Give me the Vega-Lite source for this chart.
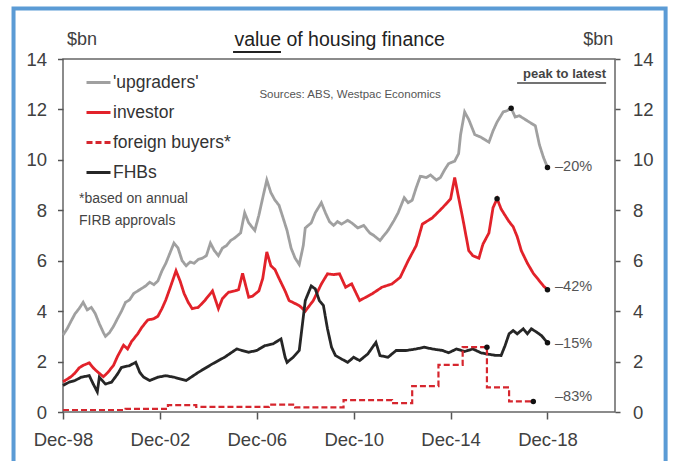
{
  "$schema": "https://vega.github.io/schema/vega-lite/v6.json",
  "width": 552,
  "height": 353,
  "autosize": {"type": "none"},
  "padding": {"left": 63, "top": 59, "right": 59, "bottom": 49},
  "background": "white",
  "config": {
    "font": "Liberation Sans",
    "view": {"stroke": "#666666", "strokeWidth": 1.5},
    "axis": {"grid": false, "domain": false, "labelFont": "Liberation Sans", "labelFontSize": 18.5, "labelColor": "#404040", "tickColor": "#555555", "tickWidth": 1.5, "title": null, "labelFlush": false}
  },
  "datasets": {
    "lines": [
      {"date": "1998-12-01", "series": "'upgraders'", "value": 3.05},
      {"date": "1999-02-01", "series": "'upgraders'", "value": 3.3},
      {"date": "1999-04-01", "series": "'upgraders'", "value": 3.6},
      {"date": "1999-06-01", "series": "'upgraders'", "value": 3.9},
      {"date": "1999-08-01", "series": "'upgraders'", "value": 4.1},
      {"date": "1999-10-01", "series": "'upgraders'", "value": 4.35},
      {"date": "1999-12-01", "series": "'upgraders'", "value": 4.05},
      {"date": "2000-02-01", "series": "'upgraders'", "value": 4.15},
      {"date": "2000-04-01", "series": "'upgraders'", "value": 3.9},
      {"date": "2000-06-01", "series": "'upgraders'", "value": 3.5},
      {"date": "2000-08-01", "series": "'upgraders'", "value": 3.15},
      {"date": "2000-09-01", "series": "'upgraders'", "value": 3.0},
      {"date": "2000-11-01", "series": "'upgraders'", "value": 3.15},
      {"date": "2001-01-01", "series": "'upgraders'", "value": 3.4},
      {"date": "2001-03-01", "series": "'upgraders'", "value": 3.7},
      {"date": "2001-05-01", "series": "'upgraders'", "value": 4.0},
      {"date": "2001-07-01", "series": "'upgraders'", "value": 4.35},
      {"date": "2001-09-01", "series": "'upgraders'", "value": 4.45},
      {"date": "2001-11-01", "series": "'upgraders'", "value": 4.7},
      {"date": "2002-01-01", "series": "'upgraders'", "value": 4.8},
      {"date": "2002-03-01", "series": "'upgraders'", "value": 4.9},
      {"date": "2002-05-01", "series": "'upgraders'", "value": 5.0},
      {"date": "2002-07-01", "series": "'upgraders'", "value": 5.15},
      {"date": "2002-09-01", "series": "'upgraders'", "value": 5.05},
      {"date": "2002-11-01", "series": "'upgraders'", "value": 5.2},
      {"date": "2003-01-01", "series": "'upgraders'", "value": 5.6},
      {"date": "2003-03-01", "series": "'upgraders'", "value": 5.9},
      {"date": "2003-05-01", "series": "'upgraders'", "value": 6.3},
      {"date": "2003-07-01", "series": "'upgraders'", "value": 6.7},
      {"date": "2003-09-01", "series": "'upgraders'", "value": 6.5},
      {"date": "2003-11-01", "series": "'upgraders'", "value": 6.0},
      {"date": "2004-01-01", "series": "'upgraders'", "value": 5.8},
      {"date": "2004-03-01", "series": "'upgraders'", "value": 5.95},
      {"date": "2004-05-01", "series": "'upgraders'", "value": 5.9},
      {"date": "2004-07-01", "series": "'upgraders'", "value": 6.05},
      {"date": "2004-09-01", "series": "'upgraders'", "value": 6.1},
      {"date": "2004-11-01", "series": "'upgraders'", "value": 6.2},
      {"date": "2005-01-01", "series": "'upgraders'", "value": 6.7},
      {"date": "2005-03-01", "series": "'upgraders'", "value": 6.4},
      {"date": "2005-05-01", "series": "'upgraders'", "value": 6.2},
      {"date": "2005-07-01", "series": "'upgraders'", "value": 6.5},
      {"date": "2005-09-01", "series": "'upgraders'", "value": 6.6},
      {"date": "2005-11-01", "series": "'upgraders'", "value": 6.8},
      {"date": "2006-01-01", "series": "'upgraders'", "value": 6.9},
      {"date": "2006-04-01", "series": "'upgraders'", "value": 7.1},
      {"date": "2006-06-01", "series": "'upgraders'", "value": 7.9},
      {"date": "2006-08-01", "series": "'upgraders'", "value": 7.5},
      {"date": "2006-11-01", "series": "'upgraders'", "value": 7.2},
      {"date": "2007-01-01", "series": "'upgraders'", "value": 7.8},
      {"date": "2007-03-01", "series": "'upgraders'", "value": 8.5},
      {"date": "2007-05-01", "series": "'upgraders'", "value": 9.2},
      {"date": "2007-07-01", "series": "'upgraders'", "value": 8.7},
      {"date": "2007-09-01", "series": "'upgraders'", "value": 8.4},
      {"date": "2007-11-01", "series": "'upgraders'", "value": 8.2},
      {"date": "2008-01-01", "series": "'upgraders'", "value": 7.7},
      {"date": "2008-03-01", "series": "'upgraders'", "value": 7.2},
      {"date": "2008-05-01", "series": "'upgraders'", "value": 6.5},
      {"date": "2008-07-01", "series": "'upgraders'", "value": 6.1},
      {"date": "2008-09-01", "series": "'upgraders'", "value": 5.85},
      {"date": "2008-11-01", "series": "'upgraders'", "value": 6.6},
      {"date": "2008-12-01", "series": "'upgraders'", "value": 7.3},
      {"date": "2009-03-01", "series": "'upgraders'", "value": 7.5},
      {"date": "2009-05-01", "series": "'upgraders'", "value": 7.9},
      {"date": "2009-08-01", "series": "'upgraders'", "value": 8.3},
      {"date": "2009-10-01", "series": "'upgraders'", "value": 7.9},
      {"date": "2009-12-01", "series": "'upgraders'", "value": 7.55},
      {"date": "2010-02-01", "series": "'upgraders'", "value": 7.4},
      {"date": "2010-04-01", "series": "'upgraders'", "value": 7.55},
      {"date": "2010-06-01", "series": "'upgraders'", "value": 7.45},
      {"date": "2010-09-01", "series": "'upgraders'", "value": 7.6},
      {"date": "2010-11-01", "series": "'upgraders'", "value": 7.5},
      {"date": "2011-02-01", "series": "'upgraders'", "value": 7.3},
      {"date": "2011-05-01", "series": "'upgraders'", "value": 7.4},
      {"date": "2011-08-01", "series": "'upgraders'", "value": 7.1},
      {"date": "2011-10-01", "series": "'upgraders'", "value": 7.0},
      {"date": "2012-01-01", "series": "'upgraders'", "value": 6.8},
      {"date": "2012-03-01", "series": "'upgraders'", "value": 7.0},
      {"date": "2012-05-01", "series": "'upgraders'", "value": 7.2},
      {"date": "2012-08-01", "series": "'upgraders'", "value": 7.6},
      {"date": "2012-10-01", "series": "'upgraders'", "value": 7.9},
      {"date": "2013-01-01", "series": "'upgraders'", "value": 8.5},
      {"date": "2013-03-01", "series": "'upgraders'", "value": 8.3},
      {"date": "2013-05-01", "series": "'upgraders'", "value": 8.4},
      {"date": "2013-07-01", "series": "'upgraders'", "value": 8.9},
      {"date": "2013-09-01", "series": "'upgraders'", "value": 9.35},
      {"date": "2013-12-01", "series": "'upgraders'", "value": 9.3},
      {"date": "2014-02-01", "series": "'upgraders'", "value": 9.4},
      {"date": "2014-05-01", "series": "'upgraders'", "value": 9.2},
      {"date": "2014-07-01", "series": "'upgraders'", "value": 9.3},
      {"date": "2014-09-01", "series": "'upgraders'", "value": 9.6},
      {"date": "2014-11-01", "series": "'upgraders'", "value": 9.85},
      {"date": "2015-02-01", "series": "'upgraders'", "value": 9.95},
      {"date": "2015-04-01", "series": "'upgraders'", "value": 10.25},
      {"date": "2015-05-01", "series": "'upgraders'", "value": 11.0},
      {"date": "2015-07-01", "series": "'upgraders'", "value": 11.9},
      {"date": "2015-09-01", "series": "'upgraders'", "value": 11.6},
      {"date": "2015-10-01", "series": "'upgraders'", "value": 11.4},
      {"date": "2015-12-01", "series": "'upgraders'", "value": 11.0},
      {"date": "2016-03-01", "series": "'upgraders'", "value": 10.9},
      {"date": "2016-05-01", "series": "'upgraders'", "value": 10.8},
      {"date": "2016-07-01", "series": "'upgraders'", "value": 10.7},
      {"date": "2016-09-01", "series": "'upgraders'", "value": 11.15},
      {"date": "2016-11-01", "series": "'upgraders'", "value": 11.5},
      {"date": "2017-02-01", "series": "'upgraders'", "value": 11.9},
      {"date": "2017-04-01", "series": "'upgraders'", "value": 11.95},
      {"date": "2017-06-01", "series": "'upgraders'", "value": 12.05},
      {"date": "2017-08-01", "series": "'upgraders'", "value": 11.7},
      {"date": "2017-10-01", "series": "'upgraders'", "value": 11.75},
      {"date": "2017-12-01", "series": "'upgraders'", "value": 11.65},
      {"date": "2018-03-01", "series": "'upgraders'", "value": 11.5},
      {"date": "2018-06-01", "series": "'upgraders'", "value": 11.35},
      {"date": "2018-08-01", "series": "'upgraders'", "value": 10.6},
      {"date": "2018-10-01", "series": "'upgraders'", "value": 10.1},
      {"date": "2018-12-01", "series": "'upgraders'", "value": 9.7},

      {"date": "1998-12-01", "series": "investor", "value": 1.2},
      {"date": "1999-02-01", "series": "investor", "value": 1.3},
      {"date": "1999-04-01", "series": "investor", "value": 1.4},
      {"date": "1999-06-01", "series": "investor", "value": 1.55},
      {"date": "1999-08-01", "series": "investor", "value": 1.75},
      {"date": "1999-10-01", "series": "investor", "value": 1.85},
      {"date": "2000-01-01", "series": "investor", "value": 1.95},
      {"date": "2000-03-01", "series": "investor", "value": 1.75},
      {"date": "2000-05-01", "series": "investor", "value": 1.6},
      {"date": "2000-08-01", "series": "investor", "value": 1.4},
      {"date": "2000-10-01", "series": "investor", "value": 1.55},
      {"date": "2001-01-01", "series": "investor", "value": 1.85},
      {"date": "2001-03-01", "series": "investor", "value": 2.2},
      {"date": "2001-06-01", "series": "investor", "value": 2.65},
      {"date": "2001-08-01", "series": "investor", "value": 2.5},
      {"date": "2001-10-01", "series": "investor", "value": 2.8},
      {"date": "2002-01-01", "series": "investor", "value": 3.1},
      {"date": "2002-03-01", "series": "investor", "value": 3.35},
      {"date": "2002-06-01", "series": "investor", "value": 3.65},
      {"date": "2002-09-01", "series": "investor", "value": 3.7},
      {"date": "2002-11-01", "series": "investor", "value": 3.8},
      {"date": "2003-01-01", "series": "investor", "value": 4.1},
      {"date": "2003-03-01", "series": "investor", "value": 4.45},
      {"date": "2003-05-01", "series": "investor", "value": 4.9},
      {"date": "2003-08-01", "series": "investor", "value": 5.6},
      {"date": "2003-10-01", "series": "investor", "value": 5.2},
      {"date": "2003-12-01", "series": "investor", "value": 4.7},
      {"date": "2004-02-01", "series": "investor", "value": 4.35},
      {"date": "2004-04-01", "series": "investor", "value": 4.1},
      {"date": "2004-07-01", "series": "investor", "value": 4.15},
      {"date": "2004-10-01", "series": "investor", "value": 4.4},
      {"date": "2005-02-01", "series": "investor", "value": 4.8},
      {"date": "2005-05-01", "series": "investor", "value": 4.1},
      {"date": "2005-07-01", "series": "investor", "value": 4.5},
      {"date": "2005-10-01", "series": "investor", "value": 4.75},
      {"date": "2006-01-01", "series": "investor", "value": 4.8},
      {"date": "2006-03-01", "series": "investor", "value": 4.85},
      {"date": "2006-05-01", "series": "investor", "value": 5.5},
      {"date": "2006-08-01", "series": "investor", "value": 4.55},
      {"date": "2006-10-01", "series": "investor", "value": 4.6},
      {"date": "2007-01-01", "series": "investor", "value": 4.8},
      {"date": "2007-03-01", "series": "investor", "value": 5.3},
      {"date": "2007-05-01", "series": "investor", "value": 6.35},
      {"date": "2007-07-01", "series": "investor", "value": 5.8},
      {"date": "2007-09-01", "series": "investor", "value": 5.65},
      {"date": "2007-11-01", "series": "investor", "value": 5.3},
      {"date": "2008-02-01", "series": "investor", "value": 4.8},
      {"date": "2008-04-01", "series": "investor", "value": 4.42},
      {"date": "2008-09-01", "series": "investor", "value": 4.22},
      {"date": "2008-12-01", "series": "investor", "value": 4.0},
      {"date": "2009-04-01", "series": "investor", "value": 4.42},
      {"date": "2009-08-01", "series": "investor", "value": 5.08},
      {"date": "2009-11-01", "series": "investor", "value": 5.48},
      {"date": "2010-02-01", "series": "investor", "value": 5.45},
      {"date": "2010-05-01", "series": "investor", "value": 5.48},
      {"date": "2010-08-01", "series": "investor", "value": 4.95},
      {"date": "2010-11-01", "series": "investor", "value": 5.08},
      {"date": "2011-03-01", "series": "investor", "value": 4.42},
      {"date": "2011-06-01", "series": "investor", "value": 4.55},
      {"date": "2011-09-01", "series": "investor", "value": 4.68},
      {"date": "2012-02-01", "series": "investor", "value": 4.95},
      {"date": "2012-07-01", "series": "investor", "value": 5.08},
      {"date": "2012-11-01", "series": "investor", "value": 5.34},
      {"date": "2013-03-01", "series": "investor", "value": 6.0},
      {"date": "2013-05-01", "series": "investor", "value": 6.3},
      {"date": "2013-07-01", "series": "investor", "value": 6.6},
      {"date": "2013-10-01", "series": "investor", "value": 7.45},
      {"date": "2014-03-01", "series": "investor", "value": 7.7},
      {"date": "2014-08-01", "series": "investor", "value": 8.1},
      {"date": "2014-12-01", "series": "investor", "value": 8.45},
      {"date": "2015-02-01", "series": "investor", "value": 9.3},
      {"date": "2015-04-01", "series": "investor", "value": 8.5},
      {"date": "2015-06-01", "series": "investor", "value": 7.7},
      {"date": "2015-09-01", "series": "investor", "value": 6.4},
      {"date": "2015-11-01", "series": "investor", "value": 6.2},
      {"date": "2016-02-01", "series": "investor", "value": 6.1},
      {"date": "2016-04-01", "series": "investor", "value": 6.65},
      {"date": "2016-07-01", "series": "investor", "value": 7.1},
      {"date": "2016-09-01", "series": "investor", "value": 8.1},
      {"date": "2016-11-01", "series": "investor", "value": 8.46},
      {"date": "2017-01-01", "series": "investor", "value": 8.05},
      {"date": "2017-03-01", "series": "investor", "value": 7.8},
      {"date": "2017-05-01", "series": "investor", "value": 7.55},
      {"date": "2017-07-01", "series": "investor", "value": 7.35},
      {"date": "2017-09-01", "series": "investor", "value": 6.95},
      {"date": "2017-11-01", "series": "investor", "value": 6.4},
      {"date": "2018-02-01", "series": "investor", "value": 5.9},
      {"date": "2018-05-01", "series": "investor", "value": 5.5},
      {"date": "2018-08-01", "series": "investor", "value": 5.2},
      {"date": "2018-10-01", "series": "investor", "value": 5.0},
      {"date": "2018-12-01", "series": "investor", "value": 4.85},

      {"date": "1998-12-01", "series": "FHBs", "value": 1.05},
      {"date": "1999-03-01", "series": "FHBs", "value": 1.18},
      {"date": "1999-06-01", "series": "FHBs", "value": 1.25},
      {"date": "1999-09-01", "series": "FHBs", "value": 1.38},
      {"date": "2000-01-01", "series": "FHBs", "value": 1.44},
      {"date": "2000-03-01", "series": "FHBs", "value": 1.11},
      {"date": "2000-05-01", "series": "FHBs", "value": 0.8},
      {"date": "2000-06-01", "series": "FHBs", "value": 1.38},
      {"date": "2000-09-01", "series": "FHBs", "value": 1.11},
      {"date": "2000-12-01", "series": "FHBs", "value": 1.18},
      {"date": "2001-03-01", "series": "FHBs", "value": 1.5},
      {"date": "2001-05-01", "series": "FHBs", "value": 1.77},
      {"date": "2001-09-01", "series": "FHBs", "value": 1.84},
      {"date": "2001-12-01", "series": "FHBs", "value": 1.97},
      {"date": "2002-02-01", "series": "FHBs", "value": 1.57},
      {"date": "2002-04-01", "series": "FHBs", "value": 1.38},
      {"date": "2002-07-01", "series": "FHBs", "value": 1.25},
      {"date": "2002-11-01", "series": "FHBs", "value": 1.38},
      {"date": "2003-03-01", "series": "FHBs", "value": 1.44},
      {"date": "2003-07-01", "series": "FHBs", "value": 1.38},
      {"date": "2004-01-01", "series": "FHBs", "value": 1.25},
      {"date": "2004-07-01", "series": "FHBs", "value": 1.57},
      {"date": "2005-02-01", "series": "FHBs", "value": 1.91},
      {"date": "2005-08-01", "series": "FHBs", "value": 2.17},
      {"date": "2006-02-01", "series": "FHBs", "value": 2.5},
      {"date": "2006-08-01", "series": "FHBs", "value": 2.37},
      {"date": "2006-12-01", "series": "FHBs", "value": 2.44},
      {"date": "2007-04-01", "series": "FHBs", "value": 2.63},
      {"date": "2007-08-01", "series": "FHBs", "value": 2.7},
      {"date": "2007-12-01", "series": "FHBs", "value": 2.9},
      {"date": "2008-02-01", "series": "FHBs", "value": 2.17},
      {"date": "2008-03-01", "series": "FHBs", "value": 1.97},
      {"date": "2008-06-01", "series": "FHBs", "value": 2.17},
      {"date": "2008-09-01", "series": "FHBs", "value": 2.44},
      {"date": "2008-11-01", "series": "FHBs", "value": 3.76},
      {"date": "2008-12-01", "series": "FHBs", "value": 4.42},
      {"date": "2009-03-01", "series": "FHBs", "value": 5.0},
      {"date": "2009-05-01", "series": "FHBs", "value": 4.88},
      {"date": "2009-07-01", "series": "FHBs", "value": 4.42},
      {"date": "2009-09-01", "series": "FHBs", "value": 4.22},
      {"date": "2009-10-01", "series": "FHBs", "value": 3.76},
      {"date": "2009-11-01", "series": "FHBs", "value": 3.3},
      {"date": "2010-01-01", "series": "FHBs", "value": 2.57},
      {"date": "2010-03-01", "series": "FHBs", "value": 2.24},
      {"date": "2010-06-01", "series": "FHBs", "value": 2.1},
      {"date": "2010-09-01", "series": "FHBs", "value": 1.97},
      {"date": "2010-12-01", "series": "FHBs", "value": 2.17},
      {"date": "2011-03-01", "series": "FHBs", "value": 2.04},
      {"date": "2011-07-01", "series": "FHBs", "value": 2.3},
      {"date": "2011-11-01", "series": "FHBs", "value": 2.76},
      {"date": "2012-01-01", "series": "FHBs", "value": 2.24},
      {"date": "2012-05-01", "series": "FHBs", "value": 2.17},
      {"date": "2012-09-01", "series": "FHBs", "value": 2.44},
      {"date": "2013-02-01", "series": "FHBs", "value": 2.44},
      {"date": "2013-07-01", "series": "FHBs", "value": 2.5},
      {"date": "2013-11-01", "series": "FHBs", "value": 2.57},
      {"date": "2014-03-01", "series": "FHBs", "value": 2.5},
      {"date": "2014-08-01", "series": "FHBs", "value": 2.44},
      {"date": "2014-11-01", "series": "FHBs", "value": 2.35},
      {"date": "2015-03-01", "series": "FHBs", "value": 2.5},
      {"date": "2015-07-01", "series": "FHBs", "value": 2.4},
      {"date": "2015-11-01", "series": "FHBs", "value": 2.5},
      {"date": "2016-03-01", "series": "FHBs", "value": 2.35},
      {"date": "2016-06-01", "series": "FHBs", "value": 2.3},
      {"date": "2016-10-01", "series": "FHBs", "value": 2.25},
      {"date": "2017-01-01", "series": "FHBs", "value": 2.24},
      {"date": "2017-03-01", "series": "FHBs", "value": 2.63},
      {"date": "2017-05-01", "series": "FHBs", "value": 3.1},
      {"date": "2017-07-01", "series": "FHBs", "value": 3.23},
      {"date": "2017-09-01", "series": "FHBs", "value": 3.1},
      {"date": "2017-12-01", "series": "FHBs", "value": 3.3},
      {"date": "2018-02-01", "series": "FHBs", "value": 3.1},
      {"date": "2018-04-01", "series": "FHBs", "value": 3.3},
      {"date": "2018-07-01", "series": "FHBs", "value": 3.15},
      {"date": "2018-09-01", "series": "FHBs", "value": 3.03},
      {"date": "2018-12-01", "series": "FHBs", "value": 2.75}
    ],
    "foreign": [
      {"date": "1998-12-01", "series": "foreign buyers*", "value": 0.08},
      {"date": "2001-07-01", "series": "foreign buyers*", "value": 0.12},
      {"date": "2003-04-01", "series": "foreign buyers*", "value": 0.27},
      {"date": "2004-06-01", "series": "foreign buyers*", "value": 0.2},
      {"date": "2007-06-01", "series": "foreign buyers*", "value": 0.29},
      {"date": "2008-07-01", "series": "foreign buyers*", "value": 0.18},
      {"date": "2010-07-01", "series": "foreign buyers*", "value": 0.47},
      {"date": "2012-07-01", "series": "foreign buyers*", "value": 0.35},
      {"date": "2013-05-01", "series": "foreign buyers*", "value": 1.03},
      {"date": "2014-06-01", "series": "foreign buyers*", "value": 1.87},
      {"date": "2015-06-01", "series": "foreign buyers*", "value": 2.57},
      {"date": "2016-06-01", "series": "foreign buyers*", "value": 0.98},
      {"date": "2017-05-01", "series": "foreign buyers*", "value": 0.42},
      {"date": "2018-05-01", "series": "foreign buyers*", "value": 0.42}
    ],
    "dots": [
      {"date": "2017-06-01", "value": 12.05},
      {"date": "2018-12-01", "value": 9.7},
      {"date": "2016-11-01", "value": 8.46},
      {"date": "2018-12-01", "value": 4.85},
      {"date": "2016-06-01", "value": 2.57},
      {"date": "2018-05-01", "value": 0.42},
      {"date": "2018-12-01", "value": 2.75}
    ],
    "pct": [
      {"label": "–20%", "value": 9.7},
      {"label": "–42%", "value": 4.97},
      {"label": "–15%", "value": 2.7},
      {"label": "–83%", "value": 0.61}
    ]
  },
  "layer": [
    {
      "data": {"values": [{}]},
      "mark": {"type": "rect", "fillOpacity": 0, "stroke": "#5b9bd5", "strokeWidth": 4},
      "encoding": {
        "x": {"datum": {"year": 1996, "month": 11, "date": 15}, "type": "temporal"},
        "x2": {"datum": {"year": 2023, "month": 10, "date": 17}},
        "y": {"datum": 16.0, "type": "quantitative", "axis": null},
        "y2": {"datum": -3}
      }
    },
    {
      "data": {"name": "lines"},
      "mark": {"type": "line", "strokeWidth": 2.8},
      "encoding": {
        "x": {
          "field": "date", "type": "temporal",
          "scale": {"domain": [{"year": 1998, "month": 12, "date": 1}, {"year": 2021, "month": 9, "date": 14}]},
          "axis": {
            "orient": "bottom",
            "values": [
              {"year": 1998, "month": 12, "date": 1},
              {"year": 2002, "month": 12, "date": 1},
              {"year": 2006, "month": 12, "date": 1},
              {"year": 2010, "month": 12, "date": 1},
              {"year": 2014, "month": 12, "date": 1},
              {"year": 2018, "month": 12, "date": 1}
            ],
            "format": "%b-%y", "tickSize": 7, "labelPadding": 11, "labelFlush": false
          }
        },
        "y": {
          "field": "value", "type": "quantitative",
          "scale": {"domain": [0, 14], "nice": false},
          "axis": {"orient": "left", "values": [0, 2, 4, 6, 8, 10, 12, 14], "tickSize": 5.5, "labelPadding": 11}
        },
        "color": {
          "field": "series", "type": "nominal", "title": null,
          "scale": {"domain": ["'upgraders'", "investor", "foreign buyers*", "FHBs"], "range": ["#a0a0a0", "#e2222a", "#d6262e", "#262626"]},
          "legend": {"orient": "none", "legendX": 22, "legendY": 10, "symbolType": "stroke", "symbolSize": 576, "symbolStrokeWidth": 2.8, "labelFontSize": 17.5, "labelColor": "#333333", "labelOffset": 1, "rowPadding": 8, "padding": 0}
        },
        "strokeDash": {
          "field": "series", "type": "nominal", "title": null,
          "scale": {"domain": ["'upgraders'", "investor", "foreign buyers*", "FHBs"], "range": [[1, 0], [1, 0], [6, 3], [1, 0]]},
          "legend": {"orient": "none", "legendX": 22, "legendY": 10, "symbolType": "stroke", "symbolSize": 576, "symbolStrokeWidth": 2.8, "labelFontSize": 17.5, "labelColor": "#333333", "labelOffset": 1, "rowPadding": 8, "padding": 0}
        }
      }
    },
    {
      "data": {"name": "foreign"},
      "mark": {"type": "line", "strokeWidth": 2.2, "interpolate": "step-after"},
      "encoding": {
        "x": {"field": "date", "type": "temporal"},
        "y": {"field": "value", "type": "quantitative", "axis": null},
        "color": {"field": "series", "type": "nominal", "title": null},
        "strokeDash": {"field": "series", "type": "nominal", "title": null}
      }
    },
    {
      "data": {"name": "dots"},
      "mark": {"type": "point", "filled": true, "color": "#111111", "size": 30, "opacity": 1},
      "encoding": {
        "x": {"field": "date", "type": "temporal"},
        "y": {
          "field": "value", "type": "quantitative",
          "axis": {"orient": "right", "values": [0, 2, 4, 6, 8, 10, 12, 14], "tickSize": 5, "labelPadding": 12.5}
        }
      }
    },
    {
      "data": {"name": "pct"},
      "mark": {"type": "text", "align": "left", "baseline": "middle", "fontSize": 14.5, "color": "#555555"},
      "encoding": {
        "x": {"datum": {"year": 2019, "month": 3, "date": 25}, "type": "temporal"},
        "y": {"field": "value", "type": "quantitative", "axis": null},
        "text": {"field": "label"}
      }
    },
    {
      "data": {"values": [{}]},
      "mark": {"type": "text", "text": "$bn", "align": "center", "baseline": "alphabetic", "fontSize": 18, "color": "#404040"},
      "encoding": {
        "x": {"datum": {"year": 1999, "month": 9, "date": 13}, "type": "temporal"},
        "y": {"datum": 14.56, "type": "quantitative", "axis": null}
      }
    },
    {
      "data": {"values": [{}]},
      "mark": {"type": "text", "text": "$bn", "align": "center", "baseline": "alphabetic", "fontSize": 18, "color": "#404040"},
      "encoding": {
        "x": {"datum": {"year": 2021, "month": 1, "date": 3}, "type": "temporal"},
        "y": {"datum": 14.56, "type": "quantitative", "axis": null}
      }
    },
    {
      "data": {"values": [{}]},
      "mark": {"type": "text", "text": "value of housing finance", "align": "center", "baseline": "alphabetic", "fontSize": 19.5, "color": "#222222"},
      "encoding": {
        "x": {"datum": {"year": 2010, "month": 5, "date": 2}, "type": "temporal"},
        "y": {"datum": 14.52, "type": "quantitative", "axis": null}
      }
    },
    {
      "data": {"values": [{}]},
      "mark": {"type": "rule", "color": "#222222", "strokeWidth": 2},
      "encoding": {
        "x": {"datum": {"year": 2005, "month": 12, "date": 8}, "type": "temporal"},
        "x2": {"datum": {"year": 2007, "month": 12, "date": 1}},
        "y": {"datum": 14.28, "type": "quantitative", "axis": null}
      }
    },
    {
      "data": {"values": [{}]},
      "mark": {"type": "text", "text": "Sources: ABS, Westpac Economics", "align": "center", "baseline": "alphabetic", "fontSize": 11.5, "color": "#555555"},
      "encoding": {
        "x": {"datum": {"year": 2010, "month": 10, "date": 7}, "type": "temporal"},
        "y": {"datum": 12.45, "type": "quantitative", "axis": null}
      }
    },
    {
      "data": {"values": [{}]},
      "mark": {"type": "text", "text": "peak to latest", "align": "right", "baseline": "alphabetic", "fontSize": 13, "fontWeight": "bold", "color": "#444444"},
      "encoding": {
        "x": {"datum": {"year": 2021, "month": 5, "date": 3}, "type": "temporal"},
        "y": {"datum": 13.25, "type": "quantitative", "axis": null}
      }
    },
    {
      "data": {"values": [{}]},
      "mark": {"type": "rule", "color": "#444444", "strokeWidth": 1.5},
      "encoding": {
        "x": {"datum": {"year": 2017, "month": 8, "date": 30}, "type": "temporal"},
        "x2": {"datum": {"year": 2021, "month": 5, "date": 3}},
        "y": {"datum": 13.05, "type": "quantitative", "axis": null}
      }
    },
    {
      "data": {"values": [{}]},
      "mark": {"type": "text", "text": ["*based on annual", "FIRB approvals"], "lineHeight": 22.5, "align": "left", "baseline": "alphabetic", "fontSize": 14, "color": "#444444"},
      "encoding": {
        "x": {"datum": {"year": 1999, "month": 7, "date": 30}, "type": "temporal"},
        "y": {"datum": 8.29, "type": "quantitative", "axis": null}
      }
    }
  ],
  "resolve": {"axis": {"y": "independent"}}
}
